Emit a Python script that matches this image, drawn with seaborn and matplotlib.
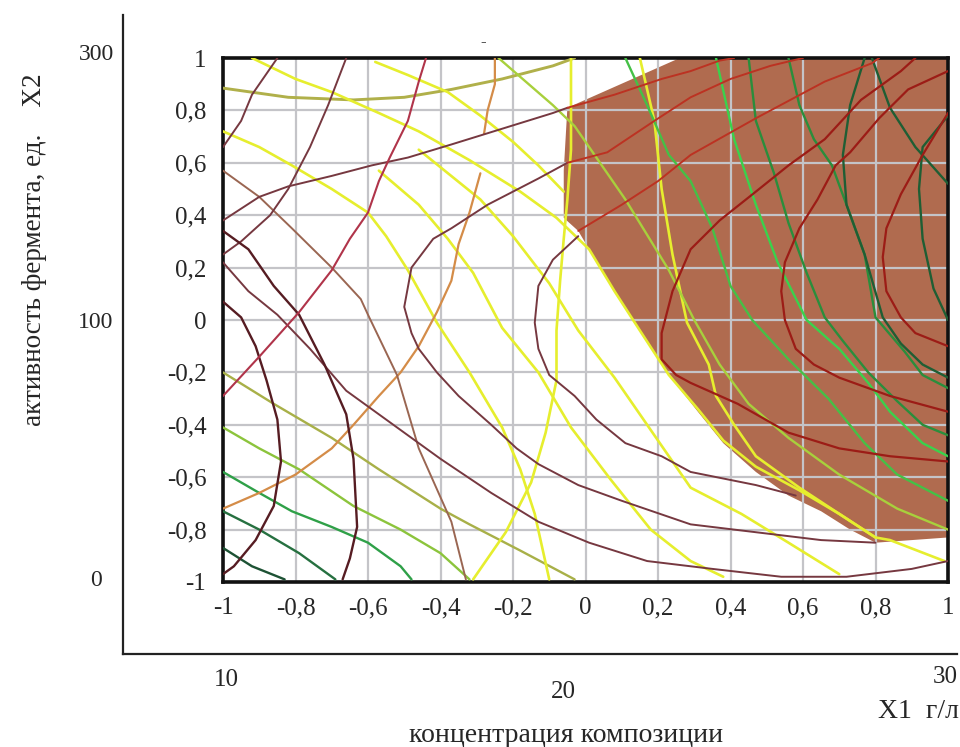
import matplotlib
matplotlib.use("Agg")
import matplotlib.pyplot as plt
import seaborn as sns

# ---- data (coded factor levels X1, X2) ----
ticks = [-1, -0.8, -0.6, -0.4, -0.2, 0, 0.2, 0.4, 0.6, 0.8, 1]
tick_labels = ["1" if t == 1 else "-1" if t == -1 else "0" if t == 0 else f"{t:g}".replace(".", ",") for t in ticks]
x2_natural = ["300", "100", "0"]
x1_natural = ["10", "20", "30"]

# optimum region (filled)
region_x1 = [-0.05, 0.26, 1.0, 1.0, 0.90, 0.80, 0.73, 0.65, 0.56, 0.47, 0.38, 0.31, 0.23, 0.15, 0.08, 0.01, -0.02, -0.06, -0.06]
region_x2 = [0.81, 1.0, 1.0, -0.83, -0.84, -0.85, -0.80, -0.73, -0.67, -0.58, -0.47, -0.35, -0.21, -0.04, 0.11, 0.27, 0.34, 0.39, 0.57]

# isolines, each as list of (x1, x2) points
maroon_lines = [
    [(-0.85, 1.0), (-0.92, 0.86), (-0.95, 0.76), (-1.0, 0.66)],
    [(-0.66, 1.0), (-0.71, 0.82), (-0.76, 0.66), (-0.82, 0.50), (-0.87, 0.40), (-0.95, 0.30), (-1.0, 0.25)],
    [(-1.0, 0.38), (-0.90, 0.47), (-0.82, 0.51), (-0.70, 0.55), (-0.59, 0.59), (-0.49, 0.62), (-0.37, 0.67),
     (-0.23, 0.73), (-0.09, 0.79), (-0.05, 0.81)],
    [(-0.05, 0.60), (-0.13, 0.54), (-0.27, 0.44), (-0.37, 0.35), (-0.42, 0.31), (-0.48, 0.20), (-0.50, 0.05),
     (-0.48, -0.05), (-0.46, -0.11), (-0.41, -0.20), (-0.35, -0.29), (-0.26, -0.40), (-0.19, -0.49),
     (-0.13, -0.55), (-0.02, -0.63), (0.10, -0.69), (0.29, -0.78), (0.47, -0.81), (0.65, -0.84), (0.80, -0.85)],
    [(-0.02, 0.32), (-0.09, 0.23), (-0.13, 0.13), (-0.14, -0.01), (-0.13, -0.11), (-0.10, -0.21), (-0.03, -0.29),
     (0.03, -0.38), (0.11, -0.47), (0.21, -0.52), (0.29, -0.58), (0.47, -0.63), (0.58, -0.67)],
    [(-1.0, 0.22), (-0.93, 0.11), (-0.85, 0.02), (-0.76, -0.11), (-0.66, -0.27), (-0.52, -0.41), (-0.40, -0.53),
     (-0.26, -0.66), (-0.13, -0.77), (0.01, -0.85), (0.17, -0.92), (0.35, -0.95), (0.54, -0.98), (0.72, -0.98),
     (0.90, -0.95), (1.0, -0.92)],
]
dark_arcs = [
    [(-1.0, 0.07), (-0.95, 0.01), (-0.91, -0.10), (-0.88, -0.23), (-0.85, -0.38), (-0.84, -0.54), (-0.86, -0.71),
     (-0.91, -0.84), (-0.97, -0.94), (-1.0, -0.97)],
    [(-1.0, 0.34), (-0.93, 0.27), (-0.86, 0.13), (-0.79, 0.02), (-0.72, -0.17), (-0.66, -0.36), (-0.64, -0.53),
     (-0.63, -0.79), (-0.65, -0.91), (-0.67, -0.99)],
]
pink_line = [(-0.44, 1.0), (-0.46, 0.91), (-0.49, 0.76), (-0.54, 0.62), (-0.57, 0.53), (-0.60, 0.41), (-0.65, 0.31),
             (-0.70, 0.19), (-0.79, 0.03), (-0.90, -0.14), (-1.0, -0.29)]
tan_line = [(-1.0, 0.57), (-0.90, 0.47), (-0.81, 0.35), (-0.70, 0.20), (-0.62, 0.08), (-0.60, 0.02), (-0.52, -0.21),
            (-0.46, -0.49), (-0.37, -0.77), (-0.33, -0.99)]
orange_lines = [
    [(-1.0, -0.72), (-0.90, -0.66), (-0.80, -0.59), (-0.70, -0.49), (-0.64, -0.40), (-0.57, -0.29), (-0.51, -0.20),
     (-0.46, -0.10), (-0.41, 0.03), (-0.37, 0.15), (-0.35, 0.29), (-0.32, 0.41), (-0.29, 0.56)],
    [(-0.28, 0.71), (-0.27, 0.80), (-0.25, 0.90), (-0.25, 1.0)],
]
yellow_lines = [
    [(-0.92, 1.0), (-0.80, 0.92), (-0.70, 0.87), (-0.57, 0.79), (-0.46, 0.72), (-0.32, 0.61), (-0.18, 0.49),
     (-0.08, 0.39), (0.01, 0.27), (0.08, 0.11), (0.15, -0.04), (0.23, -0.21), (0.31, -0.34), (0.38, -0.46),
     (0.47, -0.56), (0.59, -0.65), (0.70, -0.74), (0.80, -0.83)],
    [(-0.58, 0.985), (-0.49, 0.935), (-0.38, 0.87), (-0.29, 0.78), (-0.20, 0.68), (-0.13, 0.59), (-0.06, 0.49)],
    [(-0.46, 0.65), (-0.29, 0.46), (-0.20, 0.32), (-0.10, 0.14), (-0.02, -0.04), (0.08, -0.22), (0.18, -0.42),
     (0.29, -0.64), (0.43, -0.74), (0.56, -0.85), (0.70, -0.97)],
    [(-0.57, 0.57), (-0.46, 0.44), (-0.38, 0.31), (-0.31, 0.18), (-0.23, -0.03), (-0.13, -0.20), (-0.04, -0.41),
     (0.07, -0.61), (0.18, -0.80), (0.29, -0.92), (0.38, -0.98)],
    [(-1.0, 0.72), (-0.90, 0.66), (-0.81, 0.59), (-0.70, 0.50), (-0.60, 0.41), (-0.55, 0.32), (-0.49, 0.19),
     (-0.41, -0.01), (-0.32, -0.20), (-0.23, -0.41), (-0.18, -0.57), (-0.14, -0.74), (-0.10, -0.99)],
    [(-0.31, -0.99), (-0.22, -0.81), (-0.15, -0.62), (-0.11, -0.43), (-0.08, -0.23), (-0.08, -0.04), (-0.07, 0.15),
     (-0.06, 0.31), (-0.05, 0.46), (-0.04, 0.65), (-0.04, 0.84), (-0.04, 1.0)],
    [(0.15, 1.0), (0.19, 0.76), (0.21, 0.50), (0.24, 0.25), (0.28, -0.01), (0.34, -0.17), (0.36, -0.29),
     (0.41, -0.40), (0.47, -0.52), (0.59, -0.64), (0.70, -0.74), (0.80, -0.83), (0.84, -0.84), (0.99, -0.92)],
]
olive_line = [(-1.0, 0.885), (-0.82, 0.85), (-0.64, 0.84), (-0.50, 0.85), (-0.37, 0.88), (-0.23, 0.92), (-0.09, 0.97),
              (-0.03, 1.0)]
green_left = [
    [(-1.0, -0.20), (-0.86, -0.32), (-0.70, -0.45), (-0.57, -0.57), (-0.40, -0.72), (-0.32, -0.78), (-0.18, -0.88),
     (-0.03, -0.99)],
    [(-1.0, -0.41), (-0.90, -0.49), (-0.79, -0.57), (-0.64, -0.71), (-0.51, -0.80), (-0.40, -0.89), (-0.32, -0.99)],
    [(-1.0, -0.58), (-0.90, -0.66), (-0.81, -0.73), (-0.70, -0.79), (-0.60, -0.85), (-0.51, -0.94), (-0.48, -0.99)],
    [(-1.0, -0.73), (-0.90, -0.80), (-0.79, -0.89), (-0.69, -0.99)],
    [(-1.0, -0.87), (-0.92, -0.94), (-0.83, -0.99)],
]
green_right = [
    [(-0.24, 1.0), (-0.09, 0.82), (-0.03, 0.74), (0.11, 0.46), (0.23, 0.19), (0.30, 0.0), (0.37, -0.17),
     (0.45, -0.32), (0.56, -0.45), (0.70, -0.59), (0.86, -0.72), (1.0, -0.80)],
    [(0.11, 1.0), (0.17, 0.82), (0.23, 0.63), (0.29, 0.53), (0.35, 0.35), (0.40, 0.13), (0.46, 0.0), (0.56, -0.15),
     (0.67, -0.30), (0.77, -0.47), (0.86, -0.59), (1.0, -0.69)],
    [(0.36, 1.0), (0.41, 0.69), (0.47, 0.44), (0.53, 0.22), (0.61, 0.0), (0.70, -0.11), (0.78, -0.24),
     (0.84, -0.35), (0.93, -0.47), (1.0, -0.52)],
    [(0.45, 1.0), (0.47, 0.76), (0.52, 0.56), (0.56, 0.37), (0.61, 0.18), (0.66, 0.01), (0.71, -0.08),
     (0.78, -0.20), (0.86, -0.31), (0.93, -0.40), (1.0, -0.44)],
    [(0.56, 1.0), (0.59, 0.82), (0.63, 0.69), (0.68, 0.59), (0.72, 0.44), (0.77, 0.25), (0.80, 0.01),
     (0.88, -0.12), (0.93, -0.21), (1.0, -0.26)],
    [(0.77, 1.0), (0.73, 0.82), (0.71, 0.63), (0.72, 0.44), (0.77, 0.25), (0.82, 0.01), (0.87, -0.09),
     (0.93, -0.17), (1.0, -0.22)],
    [(0.79, 1.0), (0.84, 0.81), (0.91, 0.66), (1.0, 0.52)],
    [(1.0, 0.78), (0.93, 0.66), (0.92, 0.50), (0.93, 0.31), (0.96, 0.12), (1.0, 0.0)],
]
red_lines = [
    [(-0.05, 0.81), (0.08, 0.86), (0.21, 0.92), (0.29, 0.95), (0.37, 0.99), (0.41, 1.0)],
    [(-0.05, 0.60), (0.06, 0.64), (0.19, 0.76), (0.29, 0.85), (0.40, 0.92), (0.51, 0.97), (0.60, 1.0)],
    [(-0.02, 0.34), (0.10, 0.44), (0.20, 0.53), (0.29, 0.63), (0.47, 0.77), (0.66, 0.91), (0.79, 0.98), (0.81, 1.0)],
]
dark_red_lines = [
    [(0.91, 1.0), (0.87, 0.95), (0.76, 0.84), (0.66, 0.69), (0.56, 0.59), (0.47, 0.49), (0.37, 0.38), (0.29, 0.27),
     (0.24, 0.11), (0.21, -0.05), (0.21, -0.15), (0.25, -0.21), (0.29, -0.24), (0.42, -0.32), (0.56, -0.43),
     (0.70, -0.49), (0.84, -0.52), (1.0, -0.54)],
    [(1.0, 0.95), (0.89, 0.88), (0.81, 0.77), (0.73, 0.64), (0.69, 0.59), (0.64, 0.46), (0.59, 0.35), (0.55, 0.22),
     (0.54, 0.11), (0.55, 0.0), (0.58, -0.11), (0.63, -0.17), (0.70, -0.22), (0.84, -0.29), (1.0, -0.35)],
    [(1.0, 0.79), (0.93, 0.63), (0.87, 0.48), (0.83, 0.35), (0.82, 0.24), (0.83, 0.11), (0.87, 0.01), (0.91, -0.05),
     (1.0, -0.10)],
]

# ---- styling ----
sns.set_style("white")
plt.rcParams["font.family"] = ["Liberation Serif", "DejaVu Serif"]

fig = plt.figure(figsize=(9.6, 7.47), dpi=100)

# outer natural-unit axes (only two lines)
outer = fig.add_axes([123 / 960, 1 - 654 / 747, 834 / 960, 639 / 747])
outer.set_xticks([])
outer.set_yticks([])
outer.spines[["top", "right"]].set_visible(False)
for s in ["left", "bottom"]:
    outer.spines[s].set_linewidth(1.6)
    outer.spines[s].set_color("#222222")
outer.patch.set_alpha(0)

ax = fig.add_axes([223 / 960, 1 - 582 / 747, 725 / 960, 524 / 747])
ax.set_xlim(-1, 1)
ax.set_ylim(-1, 1)
ax.set_axisbelow("line")

ax.fill(region_x1, region_x2, color="#b06b4f", lw=0, zorder=1)


def draw(curves, color, lw):
    for c in curves:
        sns.lineplot(x=[p[0] for p in c], y=[p[1] for p in c], sort=False, estimator=None,
                     color=color, lw=lw, ax=ax, legend=False, zorder=3)


draw(green_left[4:5], "#1d5234", 1.7)
draw(green_left[3:4], "#267040", 1.7)
draw(green_left[2:3], "#2fa048", 1.7)
draw(green_left[1:2], "#8cc43c", 1.7)
draw(green_left[0:1], "#a8b048", 1.7)
draw([olive_line], "#b0b04a", 2.1)
draw(yellow_lines, "#e6ee2e", 1.9)
draw(green_right[0:1], "#a8d03c", 1.7)
draw(green_right[1:2], "#45c046", 1.7)
draw(green_right[2:3], "#3ad24c", 1.7)
draw(green_right[3:5], "#2a8e3c", 1.7)
draw(green_right[5:], "#1f5e34", 1.7)
draw(orange_lines, "#d48c48", 1.6)
draw([tan_line], "#9a6652", 1.4)
draw(maroon_lines, "#763840", 1.4)
draw(dark_arcs, "#561c22", 1.7)
draw([pink_line], "#b0344a", 1.5)
draw(red_lines, "#bc3222", 1.4)
draw(dark_red_lines, "#9c1c16", 1.6)

ax.set_xticks(ticks)
ax.set_yticks(ticks)
ax.set_xticklabels(tick_labels, fontsize=18)
ax.set_yticklabels(tick_labels, fontsize=18)
ax.tick_params(length=0)
ax.tick_params(axis="x", pad=11)
ax.tick_params(axis="y", pad=12)
ax.grid(True, color="#c4c4c8", lw=1.6)
for s in ax.spines.values():
    s.set_linewidth(2.6)
    s.set_color("#111111")
ax.set_xlabel("")
ax.set_ylabel("")

# natural-unit labels and axis titles
for lab, py in zip(x2_natural, [55, 322, 580]):
    fig.text(96 / 960, 1 - py / 747, lab, ha="center", va="center", fontsize=17)
for lab, px, py in zip(x1_natural, [226, 563, 945], [680, 692, 677]):
    fig.text(px / 960, 1 - py / 747, lab, ha="center", va="center", fontsize=18)
fig.text(918 / 960, 1 - 712 / 747, "X1  г/л", ha="center", va="center", fontsize=20)
fig.text(566 / 960, 1 - 735 / 747, "концентрация композиции", ha="center", va="center", fontsize=20)
fig.text(35 / 960, 1 - 250 / 747, "активность фермента, ед.    X2", ha="center", va="center",
         rotation=90, fontsize=19.5)
fig.text(483 / 960, 1 - 42 / 747, "-", ha="center", va="center", fontsize=12)

fig.savefig("out.png", dpi=100)
